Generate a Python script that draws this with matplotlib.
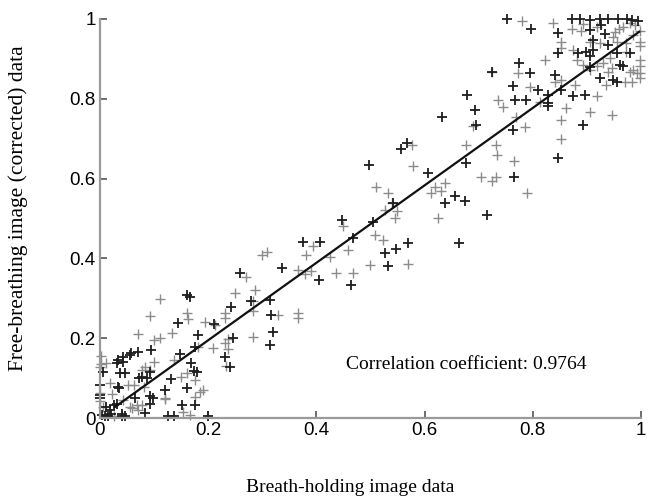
import numpy as np
from matplotlib import pyplot as plt

# Scatter points: (breath-holding, free-breathing)
# dark crosses
dark_upper = [(0.752, 1.0), (0.796, 0.974), (0.872, 0.999), (0.887, 0.999),
              (0.906, 0.997), (0.924, 0.999), (0.94, 1.0), (0.958, 0.999),
              (0.974, 1.0), (0.983, 0.997), (0.995, 0.996), (0.906, 0.972),
              (0.927, 0.985), (0.933, 0.962), (0.847, 0.964), (0.94, 0.935),
              (0.847, 0.914), (0.884, 0.914), (0.899, 0.918), (0.906, 0.906),
              (0.912, 0.922), (0.912, 0.947), (0.955, 0.914), (0.979, 0.914),
              (0.961, 0.885), (0.967, 0.881), (0.949, 0.847), (0.955, 0.843),
              (0.924, 0.851), (0.906, 0.88), (0.775, 0.889), (0.795, 0.864),
              (0.841, 0.86), (0.724, 0.866), (0.764, 0.831), (0.81, 0.822),
              (0.853, 0.822), (0.767, 0.797), (0.788, 0.797), (0.829, 0.789),
              (0.829, 0.81), (0.875, 0.806), (0.896, 0.81), (0.893, 0.734),
              (0.764, 0.722), (0.829, 0.782), (0.678, 0.81), (0.693, 0.772),
              (0.633, 0.755), (0.695, 0.735), (0.847, 0.651)]
dark_middle = [(0.567, 0.688), (0.556, 0.673), (0.498, 0.634), (0.607, 0.615),
               (0.676, 0.638), (0.765, 0.603), (0.542, 0.538), (0.638, 0.54),
               (0.657, 0.556), (0.674, 0.545), (0.715, 0.509), (0.504, 0.49),
               (0.664, 0.438), (0.527, 0.413), (0.548, 0.423), (0.570, 0.438),
               (0.533, 0.381), (0.447, 0.496), (0.376, 0.442), (0.407, 0.442),
               (0.468, 0.45), (0.465, 0.333), (0.404, 0.346), (0.336, 0.375),
               (0.314, 0.296), (0.317, 0.258), (0.28, 0.292), (0.259, 0.363),
               (0.243, 0.279), (0.32, 0.216), (0.314, 0.183), (0.246, 0.2),
               (0.231, 0.154), (0.24, 0.129)]
dark_lower = [(0.182, 0.208), (0.21, 0.236), (0.176, 0.177), (0.16, 0.308),
              (0.166, 0.304), (0.144, 0.239), (0.095, 0.17), (0.07, 0.166),
              (0.058, 0.162), (0.148, 0.16), (0.169, 0.139), (0.174, 0.119),
              (0.033, 0.145), (0.043, 0.141), (0.037, 0.112), (0.046, 0.112),
              (0.086, 0.10), (0.077, 0.104), (0.132, 0.097), (0.034, 0.078),
              (0.035, 0.074), (0.0, 0.083), (0.0, 0.058), (0.0, 0.05),
              (0.003, 0.008), (0.012, 0.028), (0.018, 0.02), (0.02, 0.01),
              (0.025, 0.033), (0.065, 0.05), (0.083, 0.012), (0.092, 0.055),
              (0.098, 0.05), (0.12, 0.07), (0.16, 0.074), (0.151, 0.033),
              (0.176, 0.033), (0.04, 0.004), (0.046, 0.004), (0.009, 0.004),
              (0.015, 0.004), (0.126, 0.004), (0.137, 0.004), (0.2, 0.005),
              (0.006, 0.116), (0.031, 0.137), (0.043, 0.154), (0.055, 0.158),
              (0.092, 0.116), (0.072, 0.1), (0.092, 0.035), (0.04, 0.01),
              (0.031, 0.035), (0.179, 0.116)]

# light grey crosses
gray_upper = [(0.781, 0.996), (0.838, 0.991), (0.853, 0.943), (0.872, 0.974),
              (0.893, 0.987), (0.952, 0.968), (0.96, 0.975), (0.967, 0.981),
              (0.906, 0.943), (0.924, 0.939), (0.955, 0.943), (0.973, 0.939),
              (0.986, 0.96), (0.998, 0.943), (0.998, 0.931), (0.998, 0.898),
              (0.998, 0.881), (0.998, 0.864), (0.998, 0.852), (0.998, 0.97),
              (0.853, 0.927), (0.875, 0.922), (0.881, 0.897), (0.893, 0.885),
              (0.906, 0.872), (0.918, 0.881), (0.93, 0.889), (0.943, 0.901),
              (0.973, 0.918), (0.94, 0.868), (0.946, 0.877), (0.979, 0.868),
              (0.986, 0.872), (0.992, 0.864), (0.936, 0.835), (0.97, 0.843),
              (0.983, 0.843), (0.773, 0.864), (0.823, 0.897), (0.795, 0.83),
              (0.841, 0.843), (0.853, 0.847), (0.878, 0.835), (0.813, 0.793),
              (0.918, 0.806), (0.77, 0.755), (0.862, 0.776), (0.853, 0.747),
              (0.906, 0.768), (0.946, 0.76), (0.786, 0.73), (0.724, 0.868),
              (0.736, 0.797), (0.746, 0.78), (0.69, 0.732), (0.853, 0.70),
              (0.98, 0.99), (0.99, 0.985), (0.949, 0.956), (0.918, 0.981),
              (0.89, 0.97)]
gray_middle = [(0.576, 0.684), (0.579, 0.632), (0.676, 0.684), (0.732, 0.684),
               (0.734, 0.659), (0.765, 0.643), (0.705, 0.605), (0.724, 0.594),
               (0.733, 0.603), (0.789, 0.563), (0.51, 0.578), (0.533, 0.563),
               (0.54, 0.538), (0.527, 0.521), (0.55, 0.518), (0.545, 0.5),
               (0.619, 0.58), (0.638, 0.59), (0.612, 0.565), (0.625, 0.5),
               (0.63, 0.57), (0.508, 0.459), (0.524, 0.446), (0.499, 0.383),
               (0.57, 0.386), (0.449, 0.48), (0.381, 0.409), (0.394, 0.43),
               (0.425, 0.404), (0.459, 0.421), (0.437, 0.363), (0.468, 0.363),
               (0.391, 0.368), (0.367, 0.37), (0.379, 0.362), (0.299, 0.409),
               (0.308, 0.417), (0.367, 0.262), (0.367, 0.25), (0.33, 0.258),
               (0.283, 0.267), (0.283, 0.292), (0.286, 0.321), (0.27, 0.354),
               (0.25, 0.313), (0.231, 0.262), (0.283, 0.204), (0.231, 0.187),
               (0.236, 0.197), (0.236, 0.172), (0.233, 0.13), (0.231, 0.25)]
gray_lower = [(0.111, 0.297), (0.092, 0.256), (0.16, 0.262), (0.163, 0.247),
              (0.134, 0.214), (0.07, 0.211), (0.099, 0.196), (0.111, 0.2),
              (0.194, 0.241), (0.213, 0.233), (0.209, 0.175), (0.182, 0.179),
              (0.002, 0.155), (0.002, 0.135), (0.077, 0.12), (0.092, 0.12),
              (0.082, 0.078), (0.15, 0.102), (0.16, 0.114), (0.176, 0.095),
              (0.063, 0.083), (0.051, 0.083), (0.068, 0.033), (0.059, 0.025),
              (0.077, 0.033), (0.071, 0.02), (0.12, 0.047), (0.176, 0.053),
              (0.191, 0.07), (0.185, 0.066), (0.154, 0.016), (0.166, 0.008),
              (0.025, 0.004), (0.0, 0.129), (0.0, 0.062), (0.0, 0.042),
              (0.006, 0.028), (0.055, 0.028), (0.043, 0.045), (0.083, 0.129),
              (0.136, 0.145), (0.019, 0.087), (0.012, 0.137), (0.1, 0.14),
              (0.12, 0.05), (0.022, 0.06)]

# fitted line end points
fit_x = [0.028, 0.997]
fit_y = [0.028, 0.968]
corr_text = "Correlation coefficient: 0.9764"

serif = ["Liberation Serif", "DejaVu Serif"]
sans = ["Liberation Sans", "DejaVu Sans"]

dark = np.array(dark_upper + dark_middle + dark_lower)
gray = np.array(gray_upper + gray_middle + gray_lower)

fig = plt.figure(figsize=(6.48, 4.99), dpi=100)
ax = fig.add_axes([0.1543, 0.1623, 0.8347, 0.7997])

ax.plot(gray[:, 0], gray[:, 1], linestyle="none", marker="+", ms=7.5,
        mew=1.0, color="#8c8c8c", clip_on=False)
ax.plot(dark[:, 0], dark[:, 1], linestyle="none", marker="+", ms=7.5,
        mew=1.3, color="#1e1e1e", clip_on=False)
ax.plot(fit_x, fit_y, color="#111111", lw=1.6)

ax.set_xlim(0, 1)
ax.set_ylim(0, 1)
ticks = [0, 0.2, 0.4, 0.6, 0.8, 1]
tick_labels = ["0", "0.2", "0.4", "0.6", "0.8", "1"]
ax.set_xticks(ticks)
ax.set_xticklabels(tick_labels, fontfamily=sans, fontsize=13.5)
ax.set_yticks(ticks)
ax.set_yticklabels(tick_labels, fontfamily=sans, fontsize=13.5)
ax.tick_params(direction="in", length=5, width=1.2, color="#555555", pad=3)

for s in ["top", "right"]:
    ax.spines[s].set_visible(False)
for s in ["left", "bottom"]:
    ax.spines[s].set_color("#9a9a9a")
    ax.spines[s].set_linewidth(1.6)

ax.set_xlabel("Breath-holding image data", fontfamily=serif, fontsize=14)
ax.xaxis.set_label_coords(0.463, -0.152)
ax.set_ylabel("Free-breathing image (corrected) data", fontfamily=serif,
              fontsize=15.5)
ax.yaxis.set_label_coords(-0.133, 0.527)

ax.text(0.455, 0.133, corr_text, fontfamily=serif, fontsize=14,
        va="center", ha="left", transform=ax.transData)

plt.savefig("out.png", dpi=100)
